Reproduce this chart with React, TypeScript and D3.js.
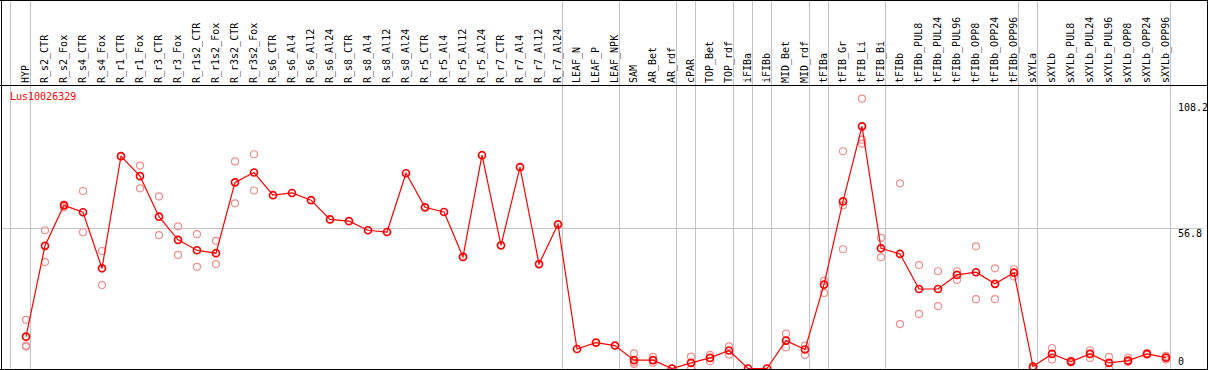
import React from "react";
import * as d3 from "d3";

const categories = ["HYP","R_s2_CTR","R_s2_Fox","R_s4_CTR","R_s4_Fox","R_r1_CTR","R_r1_Fox","R_r3_CTR","R_r3_Fox","R_r1s2_CTR","R_r1s2_Fox","R_r3s2_CTR","R_r3s2_Fox","R_s6_CTR","R_s6_Al4","R_s6_Al12","R_s6_Al24","R_s8_CTR","R_s8_Al4","R_s8_Al12","R_s8_Al24","R_r5_CTR","R_r5_Al4","R_r5_Al12","R_r5_Al24","R_r7_CTR","R_r7_Al4","R_r7_Al12","R_r7_Al24","LEAF_N","LEAF_P","LEAF_NPK","SAM","AR_Bet","AR_rdf","cPAR","TOP_Bet","TOP_rdf","iFIBa","iFIBb","MID_Bet","MID_rdf","tFIBa","tFIB_Gr","tFIB_Li","tFIB_Bi","tFIBb","tFIBb_PUL8","tFIBb_PUL24","tFIBb_PUL96","tFIBb_OPP8","tFIBb_OPP24","tFIBb_OPP96","sXYLa","sXYLb","sXYLb_PUL8","sXYLb_PUL24","sXYLb_PUL96","sXYLb_OPP8","sXYLb_OPP24","sXYLb_OPP96"];

const means = [12.9,49.7,66.1,63.3,40.6,86.0,77.9,61.5,52.1,47.9,46.7,75.4,79.4,70.2,71.1,68.2,60.4,59.7,56.0,55.3,79.1,65.3,63.4,45.2,86.4,49.9,81.6,42.3,58.4,7.9,10.5,9.3,3.4,3.4,0,2.3,4.3,7.3,0,0,11.3,7.7,34.0,67.7,98.1,48.7,46.4,32.2,32.2,37.9,39.0,34.3,38.8,0.8,5.9,2.8,5.9,2.3,3.2,5.9,4.4];

const replicates: number[][] = [
  [19.7,9.3,8.9],[56.0,43.1],[66.4,65.3],[71.9,55.2],[47.6,33.8],[86.0],[82.2,73.0],[69.7,54.0],[57.6,46.0],[54.4,41.2],[51.7,42.3],[83.9,66.9],[86.8,72.1],
  [],[],[],[],[],[],[],[],[],[],[],[],[],[],[],[],
  [],[],[],
  [6.1,2.4,1.8],[4.7,2.3,3.2],[0,0],[4.8,0],[5.5,2.9],[9.0,5.6],[],[],[14.1,8.5],[9.3,5.5],
  [35.5,30.6],[88.0,66.1,48.3],[109.3,92.7,91.1],[52.9,45.1],[75.0,18.0],[41.9,22.1],[39.4,25.3],[39.4,35.9],[49.5,28.1],[40.6,28.1],[40.2,37.3],
  [0,0],[8.3,3.6],[3.2,2.4],[7.4,4.3],[4.7,0],[4.3,2.6],[6.2,5.6],[5.1,3.6]
];

const groupEnds = ["HYP","R_r7_Al24","LEAF_NPK","AR_rdf","cPAR","TOP_rdf","iFIBa","iFIBb","MID_rdf","tFIBa","tFIB_Bi","tFIBb_OPP96","sXYLa","sXYLb_OPP96"];
const yTicks = [0, 56.8, 108.2];
const geneName = "Lus10026329";

const W = 1209, H = 370;
const FONT = "'DejaVu Sans Mono', monospace";

export default function App() {
  const x = d3.scaleBand<string>().domain(categories).range([16.5, 16.5 + 19 * categories.length]);
  const cx = (c: string) => (x(c) as number) + x.bandwidth() / 2;
  const y = d3.scaleLinear().domain([0, 108.2]).range([368.5, 101.4]);
  const line = d3.line<number>().x((_, i) => cx(categories[i])).y((v) => y(v));
  const gridY = Math.round(y(56.8)) + 0.5;

  return (
    <svg width={W} height={H} style={{ position: "absolute", left: 0, top: 0, background: "#fff" }}>
      <defs>
        <clipPath id="plot"><rect x={1} y={86} width={1206} height={284} /></clipPath>
      </defs>
      <rect x={0} y={0} width={W} height={H} fill="#fff" />
      <line x1={10.5} x2={10.5} y1={0} y2={370} stroke="#c4c4c4" />
      {groupEnds.map((g) => {
        const gx = Math.floor(cx(g) + 4.5) + 0.5;
        return <line key={g} x1={gx} x2={gx} y1={0} y2={370} stroke="#c4c4c4" />;
      })}
      <line x1={1} x2={1203} y1={gridY} y2={gridY} stroke="#c4c4c4" />
      {categories.map((c) => (
        <text key={c} transform={`translate(${cx(c)},83) rotate(-90)`} dy="0.3em" fontFamily={FONT} fontSize={10} fill="#000">{c}</text>
      ))}
      {yTicks.map((t) => (
        <text key={t} x={1178} y={t === 0 ? y(0) - 4 : y(t) + 2} dominantBaseline={t === 0 ? "auto" : "hanging"} fontFamily={FONT} fontSize={10} fill="#000">{String(t)}</text>
      ))}
      <text x={10} y={100} fontFamily={FONT} fontSize={10} fill="#ff0000">{geneName}</text>
      <g clipPath="url(#plot)">
        {replicates.map((reps, i) =>
          reps.map((v, j) => (
            <circle key={`${i}-${j}`} cx={cx(categories[i])} cy={y(v)} r={3.5} fill="none" stroke="#ec8f8f" strokeWidth={1.2} />
          ))
        )}
        <path d={line(means) as string} fill="none" stroke="#ff0000" strokeWidth={1.2} />
        {means.map((v, i) => (
          <circle key={i} cx={cx(categories[i])} cy={y(v)} r={3.5} fill="none" stroke="#ff0000" strokeWidth={1.7} />
        ))}
      </g>
      <line x1={0} x2={1208} y1={0.5} y2={0.5} stroke="#000" />
      <line x1={0} x2={1208} y1={85.5} y2={85.5} stroke="#000" />
      <line x1={0} x2={1208} y1={369.5} y2={369.5} stroke="#000" />
      <line x1={1.5} x2={1.5} y1={0} y2={370} stroke="#000" />
      <line x1={1207.5} x2={1207.5} y1={0} y2={370} stroke="#000" />
    </svg>
  );
}
